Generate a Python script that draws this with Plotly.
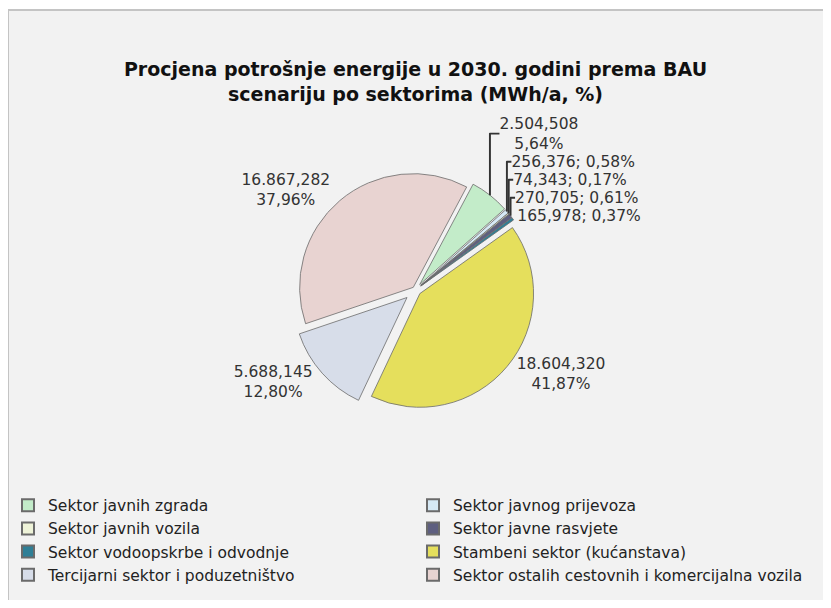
import plotly.graph_objects as go

# ---- data ----
sectors = [
    "Sektor javnih zgrada",
    "Sektor javnog prijevoza",
    "Sektor javnih vozila",
    "Sektor javne rasvjete",
    "Sektor vodoopskrbe i odvodnje",
    "Stambeni sektor (kućanstava)",
    "Tercijarni sektor i poduzetništvo",
    "Sektor ostalih cestovnih i komercijalna vozila",
]
values_mwh = [2504508, 256376, 74343, 270705, 165978, 18604320, 5688145, 16867282]
value_labels = ["2.504,508", "256,376", "74,343", "270,705", "165,978",
                "18.604,320", "5.688,145", "16.867,282"]
pct_labels = ["5,64%", "0,58%", "0,17%", "0,61%", "0,37%", "41,87%", "12,80%", "37,96%"]
label_seps = ["<br>", "; ", "; ", "; ", "; ", "<br>", "<br>", "<br>"]

colors = ["#c3ecc9", "#d6e9f5", "#eef3d8", "#5e5f80", "#2f7f96",
          "#e5df5c", "#d7dde9", "#e8d3d1"]
pulls = [0.06, 0.06, 0.06, 0.06, 0.06, 0.05, 0.10, 0.03]

slice_text = [v + s + p for v, s, p in zip(value_labels, label_seps, pct_labels)]

# the page body adds an 8px margin, so keep the figure inside the 831x608 window
W, H = 815, 592

fig = go.Figure()
fig.add_trace(go.Pie(
    labels=sectors,
    values=values_mwh,
    text=slice_text,
    textinfo="text",
    textposition="outside",
    textfont=dict(family="DejaVu Sans", size=15.5, color="#333333"),
    marker=dict(colors=colors, line=dict(color="#6b6b6b", width=0.8)),
    pull=pulls,
    sort=False,
    direction="clockwise",
    rotation=28,
    automargin=False,
    hoverinfo="label+value+percent",
    domain=dict(x=[0.0, 1.0], y=[0.3125, 0.735]),
))

fig.update_layout(
    width=W, height=H,
    margin=dict(l=0, r=0, t=0, b=0, autoexpand=False),
    paper_bgcolor="white",
    plot_bgcolor="white",
    font=dict(family="DejaVu Sans", color="#222222"),
    title=dict(
        text="Procjena potrošnje energije u 2030. godini prema BAU<br>scenariju po sektorima (MWh/a, %)",
        x=0.5, xanchor="center", y=0.8845, yanchor="middle",
        font=dict(family="DejaVu Sans", size=19, color="#111111", weight="bold"),
    ),
    showlegend=True,
    legend=dict(
        orientation="h",
        x=0.0, xanchor="left",
        y=0.188, yanchor="top",
        entrywidth=360, entrywidthmode="pixels",
        font=dict(family="DejaVu Sans", size=15.5, color="#222222"),
        bgcolor="rgba(0,0,0,0)",
        itemsizing="constant",
        traceorder="normal",
    ),
    shapes=[dict(
        type="rect", xref="paper", yref="paper",
        x0=0.0, x1=1.2, y0=-0.2, y1=1 - 2 / H,
        fillcolor="#f2f2f2", line=dict(color="#c4c4c4", width=2),
        layer="below",
    )],
)

fig.write_html("out.html")
